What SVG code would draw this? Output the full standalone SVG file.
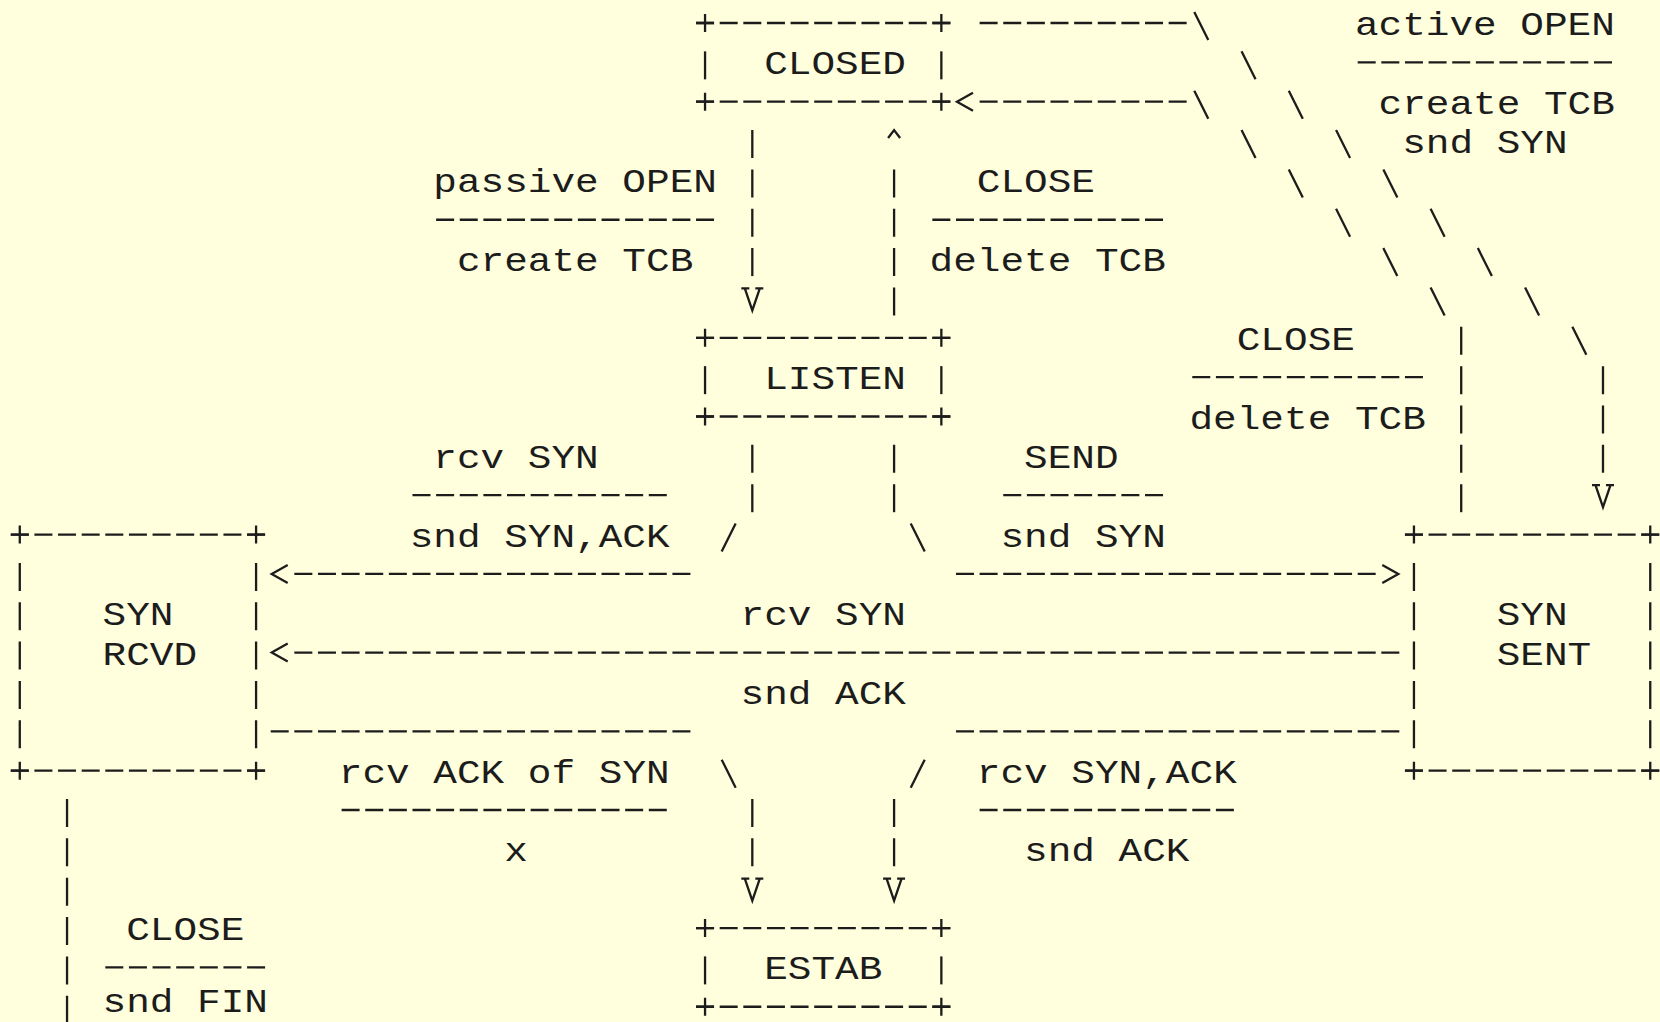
<svg xmlns="http://www.w3.org/2000/svg" width="1660" height="1022" viewBox="0 0 1660 1022">
<style>
.ln{stroke:#1c1c1c;stroke-width:2.3;fill:none;stroke-linecap:butt}
.h{stroke-dasharray:18 5.63}
.v{stroke-dasharray:28 11.35}
.t{font-family:"Liberation Mono","DejaVu Sans Mono",monospace;font-size:39.4px;fill:#1c1c1c}
</style>
<defs>
<path id="pl" d="M-9,-12H9M0,-21V-3"/>
<path id="lt" d="M8,-21L-8,-12L8,-3"/>
<path id="gt" d="M-8,-21L8,-12L-8,-3"/>
<path id="vv" d="M-11,-22H-3M-7.5,-22L0,0L7.5,-22M3,-22H11"/>
<path id="up" d="M-6,-15L0,-23L6,-15"/>
<path id="bs" d="M-7,-23L7,5"/>
<path id="fs" d="M7,-23L-7,5"/>
</defs>
<rect width="1660" height="1022" fill="#ffffdd"/>

<g id="node-closed">
<line class="ln h" x1="696.05" y1="23" x2="950.35" y2="23"/>
<line class="ln h" x1="696.05" y1="101.7" x2="950.35" y2="101.7"/>
<use href="#pl" class="ln" x="705.05" y="35"/><use href="#pl" class="ln" x="941.35" y="35"/>
<use href="#pl" class="ln" x="705.05" y="113.7"/><use href="#pl" class="ln" x="941.35" y="113.7"/>
<line class="ln" x1="705.05" y1="51.35" x2="705.05" y2="79.35"/>
<line class="ln" x1="941.35" y1="51.35" x2="941.35" y2="79.35"/>
<text class="t" transform="translate(764.14,74.35) scale(1,.83)">CLOSED</text>
</g>

<g id="node-listen">
<line class="ln h" x1="696.05" y1="337.8" x2="950.35" y2="337.8"/>
<line class="ln h" x1="696.05" y1="416.5" x2="950.35" y2="416.5"/>
<use href="#pl" class="ln" x="705.05" y="349.8"/><use href="#pl" class="ln" x="941.35" y="349.8"/>
<use href="#pl" class="ln" x="705.05" y="428.5"/><use href="#pl" class="ln" x="941.35" y="428.5"/>
<line class="ln" x1="705.05" y1="366.15" x2="705.05" y2="394.15"/>
<line class="ln" x1="941.35" y1="366.15" x2="941.35" y2="394.15"/>
<text class="t" transform="translate(764.14,389.15) scale(1,.83)">LISTEN</text>
</g>

<g id="node-syn-rcvd">
<line class="ln h" x1="10.78" y1="534.55" x2="265.08" y2="534.55"/>
<line class="ln h" x1="10.78" y1="770.65" x2="265.08" y2="770.65"/>
<use href="#pl" class="ln" x="19.78" y="546.55"/><use href="#pl" class="ln" x="256.08" y="546.55"/>
<use href="#pl" class="ln" x="19.78" y="782.65"/><use href="#pl" class="ln" x="256.08" y="782.65"/>
<line class="ln v" x1="19.78" y1="562.9" x2="19.78" y2="748.3"/>
<line class="ln v" x1="256.08" y1="562.9" x2="256.08" y2="748.3"/>
<text class="t" transform="translate(102.5,625.25) scale(1,.83)">SYN</text>
<text class="t" transform="translate(102.5,664.6) scale(1,.83)">RCVD</text>
</g>

<g id="node-syn-sent">
<line class="ln h" x1="1404.95" y1="534.55" x2="1659.25" y2="534.55"/>
<line class="ln h" x1="1404.95" y1="770.65" x2="1659.25" y2="770.65"/>
<use href="#pl" class="ln" x="1413.95" y="546.55"/><use href="#pl" class="ln" x="1650.25" y="546.55"/>
<use href="#pl" class="ln" x="1413.95" y="782.65"/><use href="#pl" class="ln" x="1650.25" y="782.65"/>
<line class="ln v" x1="1413.95" y1="562.9" x2="1413.95" y2="748.3"/>
<line class="ln v" x1="1650.25" y1="562.9" x2="1650.25" y2="748.3"/>
<text class="t" transform="translate(1496.67,625.25) scale(1,.83)">SYN</text>
<text class="t" transform="translate(1496.67,664.6) scale(1,.83)">SENT</text>
</g>

<g id="node-estab">
<line class="ln h" x1="696.05" y1="928.05" x2="950.35" y2="928.05"/>
<line class="ln h" x1="696.05" y1="1006.75" x2="950.35" y2="1006.75"/>
<use href="#pl" class="ln" x="705.05" y="940.05"/><use href="#pl" class="ln" x="941.35" y="940.05"/>
<use href="#pl" class="ln" x="705.05" y="1018.75"/><use href="#pl" class="ln" x="941.35" y="1018.75"/>
<line class="ln" x1="705.05" y1="956.4" x2="705.05" y2="984.4"/>
<line class="ln" x1="941.35" y1="956.4" x2="941.35" y2="984.4"/>
<text class="t" transform="translate(764.14,979.4) scale(1,.83)">ESTAB</text>
</g>

<g id="connectors">
<g id="c-active-open">
<line class="ln h" x1="979.61" y1="23" x2="1186.65" y2="23"/>
<use href="#bs" class="ln" x="1201.28" y="35"/>
<use href="#bs" class="ln" x="1248.54" y="74.35"/>
<use href="#bs" class="ln" x="1295.8" y="113.7"/>
<use href="#bs" class="ln" x="1343.06" y="153.05"/>
<use href="#bs" class="ln" x="1390.32" y="192.4"/>
<use href="#bs" class="ln" x="1437.58" y="231.75"/>
<use href="#bs" class="ln" x="1484.84" y="271.1"/>
<use href="#bs" class="ln" x="1532.1" y="310.45"/>
<use href="#bs" class="ln" x="1579.36" y="349.8"/>
<line class="ln v" x1="1602.99" y1="366.15" x2="1602.99" y2="472.85"/>
<use href="#vv" class="ln" x="1602.99" y="507.2"/>
</g>
<g id="c-close-sent">
<line class="ln v" x1="1461.21" y1="326.8" x2="1461.21" y2="512.2"/>
<use href="#bs" class="ln" x="1437.58" y="310.45"/>
<use href="#bs" class="ln" x="1390.32" y="271.1"/>
<use href="#bs" class="ln" x="1343.06" y="231.75"/>
<use href="#bs" class="ln" x="1295.8" y="192.4"/>
<use href="#bs" class="ln" x="1248.54" y="153.05"/>
<use href="#bs" class="ln" x="1201.28" y="113.7"/>
<line class="ln h" x1="979.61" y1="101.7" x2="1186.65" y2="101.7"/>
<use href="#lt" class="ln" x="964.98" y="113.7"/>
</g>
<g id="c-passive-open">
<line class="ln v" x1="752.31" y1="130.05" x2="752.31" y2="276.1"/>
<use href="#vv" class="ln" x="752.31" y="310.45"/>
</g>
<g id="c-close-listen">
<use href="#up" class="ln" x="894.09" y="153.05"/>
<line class="ln v" x1="894.09" y1="169.4" x2="894.09" y2="315.45"/>
</g>
<g id="c-rcv-syn-listen">
<line class="ln v" x1="752.31" y1="444.85" x2="752.31" y2="512.2"/>
<use href="#fs" class="ln" x="728.68" y="546.55"/>
<line class="ln h" x1="294.34" y1="573.9" x2="690.42" y2="573.9"/>
<use href="#lt" class="ln" x="279.71" y="585.9"/>
</g>
<g id="c-send">
<line class="ln v" x1="894.09" y1="444.85" x2="894.09" y2="512.2"/>
<use href="#bs" class="ln" x="917.72" y="546.55"/>
<line class="ln h" x1="955.98" y1="573.9" x2="1375.69" y2="573.9"/>
<use href="#gt" class="ln" x="1390.32" y="585.9"/>
</g>
<g id="c-rcv-syn-sent">
<line class="ln h" x1="294.34" y1="652.6" x2="1399.32" y2="652.6"/>
<use href="#lt" class="ln" x="279.71" y="664.6"/>
</g>
<g id="c-rcv-ack">
<line class="ln h" x1="270.71" y1="731.3" x2="690.42" y2="731.3"/>
<use href="#bs" class="ln" x="728.68" y="782.65"/>
<line class="ln v" x1="752.31" y1="799" x2="752.31" y2="866.35"/>
<use href="#vv" class="ln" x="752.31" y="900.7"/>
</g>
<g id="c-rcv-synack">
<line class="ln h" x1="955.98" y1="731.3" x2="1399.32" y2="731.3"/>
<use href="#fs" class="ln" x="917.72" y="782.65"/>
<line class="ln v" x1="894.09" y1="799" x2="894.09" y2="866.35"/>
<use href="#vv" class="ln" x="894.09" y="900.7"/>
</g>
<g id="c-close-rcvd">
<line class="ln v" x1="67.04" y1="799" x2="67.04" y2="1030"/>
</g>
</g>

<g id="labels">
<text class="t" transform="translate(1354.89,35) scale(1,.83)">active OPEN</text>
<line class="ln h" x1="1357.69" y1="62.35" x2="1611.99" y2="62.35"/>
<text class="t" transform="translate(1378.52,113.7) scale(1,.83)">create TCB</text>
<text class="t" transform="translate(1402.15,153.05) scale(1,.83)">snd SYN</text>

<text class="t" transform="translate(433.32,192.4) scale(1,.83)">passive OPEN</text>
<line class="ln h" x1="436.12" y1="219.75" x2="714.05" y2="219.75"/>
<text class="t" transform="translate(456.95,271.1) scale(1,.83)">create TCB</text>

<text class="t" transform="translate(976.81,192.4) scale(1,.83)">CLOSE</text>
<line class="ln h" x1="932.35" y1="219.75" x2="1163.02" y2="219.75"/>
<text class="t" transform="translate(929.55,271.1) scale(1,.83)">delete TCB</text>

<text class="t" transform="translate(1236.74,349.8) scale(1,.83)">CLOSE</text>
<line class="ln h" x1="1192.28" y1="377.15" x2="1422.95" y2="377.15"/>
<text class="t" transform="translate(1189.48,428.5) scale(1,.83)">delete TCB</text>

<text class="t" transform="translate(433.32,467.85) scale(1,.83)">rcv SYN</text>
<line class="ln h" x1="412.49" y1="495.2" x2="666.79" y2="495.2"/>
<text class="t" transform="translate(409.69,546.55) scale(1,.83)">snd SYN,ACK</text>

<text class="t" transform="translate(1024.07,467.85) scale(1,.83)">SEND</text>
<line class="ln h" x1="1003.24" y1="495.2" x2="1163.02" y2="495.2"/>
<text class="t" transform="translate(1000.44,546.55) scale(1,.83)">snd SYN</text>

<text class="t" transform="translate(740.51,625.25) scale(1,.83)">rcv SYN</text>
<text class="t" transform="translate(740.51,703.95) scale(1,.83)">snd ACK</text>

<text class="t" transform="translate(338.8,782.65) scale(1,.83)">rcv ACK of SYN</text>
<line class="ln h" x1="341.6" y1="810" x2="666.79" y2="810"/>
<text class="t" transform="translate(504.21,861.35) scale(1,.83)">x</text>

<text class="t" transform="translate(976.81,782.65) scale(1,.83)">rcv SYN,ACK</text>
<line class="ln h" x1="979.61" y1="810" x2="1233.91" y2="810"/>
<text class="t" transform="translate(1024.07,861.35) scale(1,.83)">snd ACK</text>

<text class="t" transform="translate(126.13,940.05) scale(1,.83)">CLOSE</text>
<line class="ln h" x1="105.3" y1="967.4" x2="265.08" y2="967.4"/>
<text class="t" transform="translate(102.5,1011.5) scale(1,.83)">snd FIN</text>
</g>
</svg>
